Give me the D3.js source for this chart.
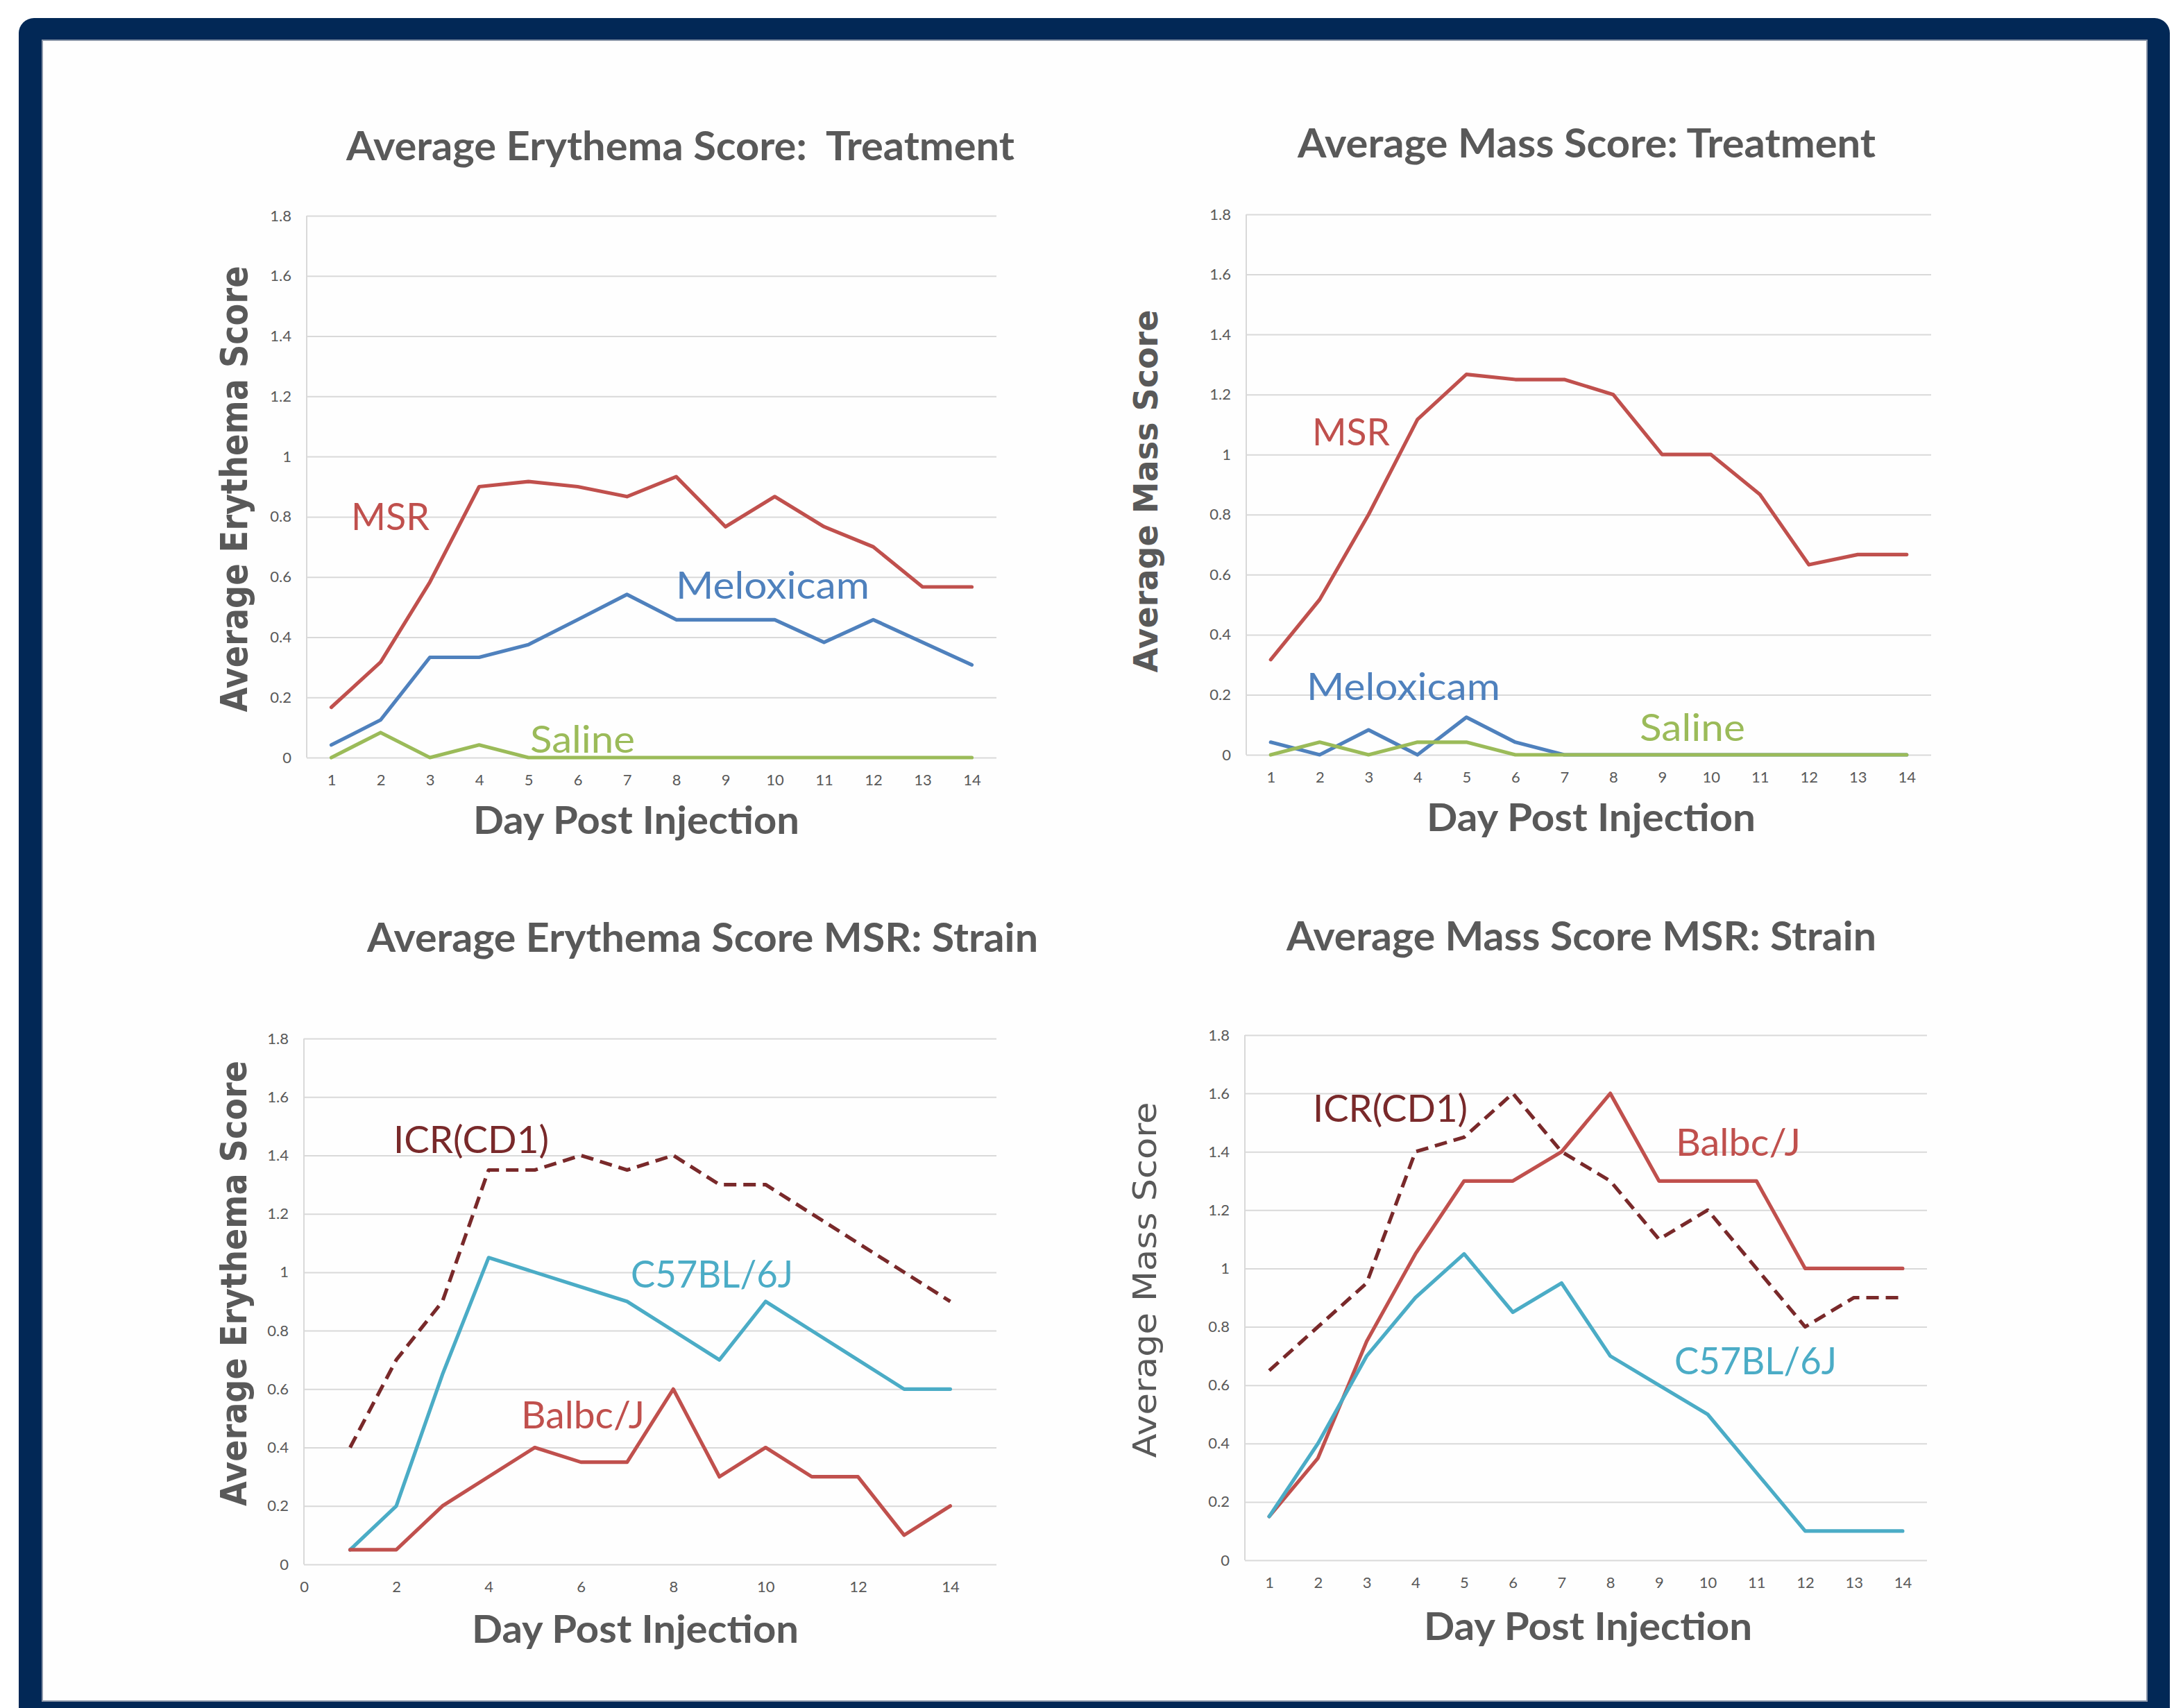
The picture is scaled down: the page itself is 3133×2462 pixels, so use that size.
<!DOCTYPE html>
<html>
<head>
<meta charset="utf-8">
<script src="https://cdn.jsdelivr.net/npm/d3@7"></script>
<style>
html,body{margin:0;padding:0;background:#ffffff;overflow:hidden;}
svg{display:block;}
</style>
</head>
<body>
<script>
// ---------------- DATA ----------------
const days = [1,2,3,4,5,6,7,8,9,10,11,12,13,14];
const yTicks = [0,0.2,0.4,0.6,0.8,1,1.2,1.4,1.6,1.8];
const yTickLabels = ["0","0.2","0.4","0.6","0.8","1","1.2","1.4","1.6","1.8"];
const strainXTicks = [0,2,4,6,8,10,12,14];

const chartTitles = [
  "Average Erythema Score:  Treatment",
  "Average Mass Score: Treatment",
  "Average Erythema Score MSR: Strain",
  "Average Mass Score MSR: Strain"
];
const yTitles = ["Average Erythema Score","Average Mass Score","Average Erythema Score","Average Mass Score"];
const xTitle = "Day Post Injection";

// Erythema - treatment
const erythemaMSR       = [0.167,0.317,0.583,0.9,0.917,0.9,0.867,0.933,0.767,0.867,0.767,0.7,0.567,0.567];
const erythemaMeloxicam = [0.042,0.125,0.333,0.333,0.375,0.458,0.542,0.458,0.458,0.458,0.383,0.458,0.383,0.308];
const erythemaSaline    = [0,0.083,0,0.042,0,0,0,0,0,0,0,0,0,0];
// Mass - treatment
const massMSR       = [0.317,0.517,0.8,1.117,1.267,1.25,1.25,1.2,1.0,1.0,0.867,0.633,0.667,0.667];
const massMeloxicam = [0.042,0,0.083,0,0.125,0.042,0,0,0,0,0,0,0,0];
const massSaline    = [0,0.042,0,0.042,0.042,0,0,0,0,0,0,0,0,0];
// Erythema - strain
const erythemaICR   = [0.4,0.7,0.9,1.35,1.35,1.4,1.35,1.4,1.3,1.3,1.2,1.1,1.0,0.9];
const erythemaC57   = [0.05,0.2,0.65,1.05,1.0,0.95,0.9,0.8,0.7,0.9,0.8,0.7,0.6,0.6];
const erythemaBalbc = [0.05,0.05,0.2,0.3,0.4,0.35,0.35,0.6,0.3,0.4,0.3,0.3,0.1,0.2];
// Mass - strain
const massICR   = [0.65,0.8,0.95,1.4,1.45,1.6,1.4,1.3,1.1,1.2,1.0,0.8,0.9,0.9];
const massBalbc = [0.15,0.35,0.75,1.05,1.3,1.3,1.4,1.6,1.3,1.3,1.3,1.0,1.0,1.0];
const massC57   = [0.15,0.4,0.7,0.9,1.05,0.85,0.95,0.7,0.6,0.5,0.3,0.1,0.1,0.1];

// ---------------- STYLE ----------------
const RED = "#c0504d", BLUE = "#4f81bd", GREEN = "#9bbb59", TEAL = "#4bacc6", DARKRED = "#79292a";
const GREY_TXT = "#595959", GRID = "#d9d9d9", NAVY = "#022856";
const LABEL_FONT = "Lato, 'Open Sans', sans-serif";

const panels = [
  { title: chartTitles[0], yTitle: yTitles[0],
    area: {left:442, right:1436, top:311, bottom:1092}, xMode:"point",
    titlePos: {x:499, y:231, len:963}, xTitlePos: {x:682, y:1202, len:470},
    yTitlePos: {x:356, y:705, len:643, size:54, weight:"bold"},
    series: [
      {name:"MSR", values:erythemaMSR, color:RED, lab:{x:506,y:764,len:113}},
      {name:"Meloxicam", values:erythemaMeloxicam, color:BLUE, lab:{x:974,y:863,len:279}},
      {name:"Saline", values:erythemaSaline, color:GREEN, lab:{x:764,y:1085,len:151}}
    ]},
  { title: chartTitles[1], yTitle: yTitles[1],
    area: {left:1796, right:2783, top:309, bottom:1088}, xMode:"point",
    titlePos: {x:1870, y:227, len:833}, xTitlePos: {x:2056, y:1198, len:474},
    yTitlePos: {x:1668, y:708, len:523, size:48, weight:"bold"},
    series: [
      {name:"MSR", values:massMSR, color:RED, lab:{x:1891,y:642,len:112}},
      {name:"Meloxicam", values:massMeloxicam, color:BLUE, lab:{x:1883,y:1009,len:279}},
      {name:"Saline", values:massSaline, color:GREEN, lab:{x:2363,y:1068,len:152}}
    ]},
  { title: chartTitles[2], yTitle: yTitles[2],
    area: {left:438, right:1436, top:1497, bottom:2255}, xMode:"linear",
    titlePos: {x:529, y:1372, len:967}, xTitlePos: {x:680, y:2368, len:471},
    yTitlePos: {x:355, y:1850, len:642, size:51, weight:"bold"},
    series: [
      {name:"ICR(CD1)", values:erythemaICR, color:DARKRED, dash:true, lab:{x:567,y:1662,len:224}},
      {name:"C57BL/6J", values:erythemaC57, color:TEAL, lab:{x:909,y:1856,len:234}},
      {name:"Balbc/J", values:erythemaBalbc, color:RED, lab:{x:751,y:2059,len:178}}
    ]},
  { title: chartTitles[3], yTitle: yTitles[3],
    area: {left:1794, right:2777, top:1492, bottom:2249}, xMode:"point",
    titlePos: {x:1854, y:1370, len:850}, xTitlePos: {x:2052, y:2364, len:473},
    yTitlePos: {x:1666, y:1845, len:513, size:47, weight:"normal"},
    series: [
      {name:"ICR(CD1)", values:massICR, color:DARKRED, dash:true, lab:{x:1892,y:1617,len:223}},
      {name:"Balbc/J", values:massBalbc, color:RED, lab:{x:2415,y:1666,len:180}},
      {name:"C57BL/6J", values:massC57, color:TEAL, lab:{x:2413,y:1981,len:234}}
    ]}
];

// ---------------- DRAW ----------------
const W = 3133, H = 2462;
const svg = d3.select("body").append("svg").attr("width", W).attr("height", H);

// frame
svg.append("rect").attr("x",0).attr("y",0).attr("width",W).attr("height",H).attr("fill","#ffffff");
svg.append("rect").attr("x",27).attr("y",26).attr("width",3100).attr("height",2520)
  .attr("rx",22).attr("fill",NAVY);
svg.append("rect").attr("x",61).attr("y",58).attr("width",3033).attr("height",2394)
  .attr("fill","#fefefe").attr("stroke","#8d98aa").attr("stroke-width",2);

panels.forEach(p => {
  const a = p.area;
  const g = svg.append("g");
  const y = d3.scaleLinear().domain([0,1.8]).range([a.bottom, a.top]);
  let x;
  if (p.xMode === "point") {
    x = d3.scalePoint().domain(days).range([a.left, a.right]).padding(0.5);
  } else {
    x = d3.scaleLinear().domain([0,15]).range([a.left, a.right]);
  }

  // gridlines + y tick labels
  const yAxis = d3.axisLeft(y).tickValues(yTicks)
    .tickFormat((d,i) => yTickLabels[i])
    .tickSize(-(a.right - a.left)).tickPadding(22);
  const yg = g.append("g").attr("transform", `translate(${a.left},0)`).call(yAxis);
  yg.select(".domain").remove();
  yg.selectAll(".tick line").attr("stroke", GRID).attr("stroke-width", 2);
  yg.selectAll(".tick text").attr("fill", GREY_TXT)
    .style("font-family", LABEL_FONT).style("font-size", "22px");

  // left axis line
  g.append("line").attr("x1",a.left).attr("x2",a.left).attr("y1",a.top).attr("y2",a.bottom)
    .attr("stroke", GRID).attr("stroke-width", 2);

  // x axis labels
  const xAxis = p.xMode === "point"
    ? d3.axisBottom(x).tickSize(0).tickPadding(24)
    : d3.axisBottom(x).tickValues(strainXTicks).tickSize(0).tickPadding(24);
  const xg = g.append("g").attr("transform", `translate(0,${a.bottom})`).call(xAxis);
  xg.select(".domain").remove();
  xg.selectAll(".tick text").attr("fill", GREY_TXT)
    .style("font-family", LABEL_FONT).style("font-size", "22px");

  // lines
  const line = d3.line().x((d,i) => x(days[i])).y(d => y(d));
  p.series.forEach(s => {
    g.append("path").datum(s.values)
      .attr("d", line)
      .attr("fill", "none")
      .attr("stroke", s.color)
      .attr("stroke-width", 5.2)
      .attr("stroke-linejoin", "round")
      .attr("stroke-linecap", s.dash ? "butt" : "round")
      .attr("stroke-dasharray", s.dash ? "18,10" : null);
  });

  // series labels
  p.series.forEach(s => {
    g.append("text").attr("x", s.lab.x).attr("y", s.lab.y)
      .attr("fill", s.color)
      .attr("textLength", s.lab.len).attr("lengthAdjust", "spacingAndGlyphs")
      .style("font-family", LABEL_FONT).style("font-size", "55px")
      .text(s.name);
  });

  // chart title
  g.append("text").attr("x", p.titlePos.x).attr("y", p.titlePos.y)
    .attr("fill", GREY_TXT)
    .attr("textLength", p.titlePos.len).attr("lengthAdjust", "spacingAndGlyphs")
    .style("white-space", "pre")
    .style("font-family", LABEL_FONT).style("font-weight", "bold").style("font-size", "57px")
    .text(p.title);

  // x title
  g.append("text").attr("x", p.xTitlePos.x).attr("y", p.xTitlePos.y)
    .attr("fill", GREY_TXT)
    .attr("textLength", p.xTitlePos.len).attr("lengthAdjust", "spacingAndGlyphs")
    .style("font-family", LABEL_FONT).style("font-weight", "bold").style("font-size", "56px")
    .text(xTitle);

  // y title
  const yt = p.yTitlePos;
  g.append("text")
    .attr("transform", `translate(${yt.x},${yt.y}) rotate(-90)`)
    .attr("text-anchor", "middle")
    .attr("fill", GREY_TXT)
    .attr("textLength", yt.len).attr("lengthAdjust", "spacingAndGlyphs")
    .style("font-family", "'DejaVu Sans', Verdana, sans-serif")
    .style("font-weight", yt.weight).style("font-size", yt.size + "px")
    .text(p.yTitle);
});
</script>
</body>
</html>
